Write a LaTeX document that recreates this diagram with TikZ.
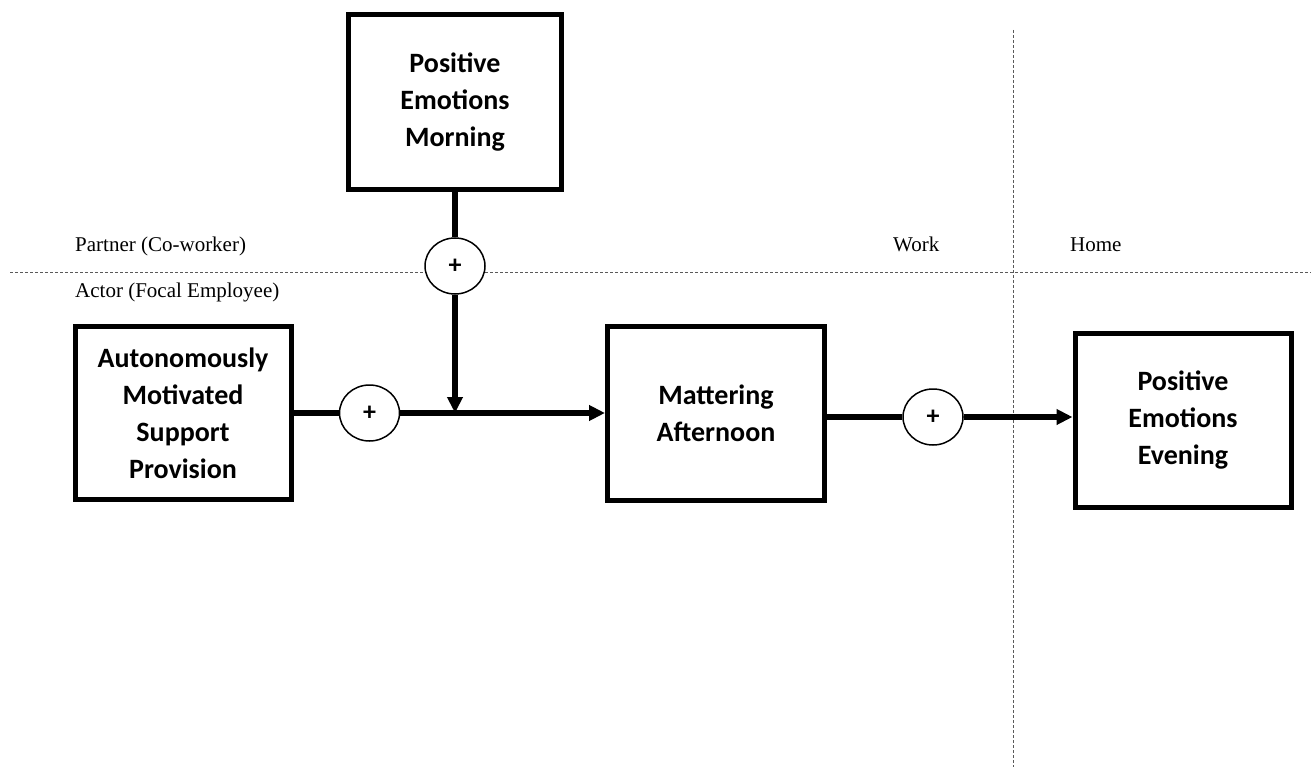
\documentclass[tikz,border=0pt]{standalone}
\usepackage{fontspec}
\setmainfont{Liberation Serif}
\newfontfamily\boxfont{Carlito}
\usetikzlibrary{arrows.meta,shapes.geometric}
\tikzset{
  varbox/.style={draw=black, line width=5pt, fill=white, inner sep=0pt,
    align=center, font=\boxfont\bfseries\fontsize{28}{37}\selectfont},
  plusnode/.style={draw=black, line width=1.5pt, fill=white, ellipse,
    inner sep=0pt, minimum width=60pt, minimum height=56pt,
    font=\boxfont\bfseries\fontsize{26}{30}\selectfont},
  lbl/.style={font=\fontsize{21}{25}\selectfont, inner sep=0pt, anchor=base west},
  divider/.style={draw=black!65, line width=1pt, dash pattern=on 3pt off 2pt},
  conn/.style={draw=black, line width=5.5pt},
  arr/.style={conn, -{Triangle[length=16pt,width=15pt]}}
}
\begin{document}
\begin{tikzpicture}[x=1pt,y=-1pt]
\useasboundingbox (0,0) rectangle (1311,767);
% dividers
\coordinate (hl) at (10,273);
\coordinate (hr) at (1311,273);
\coordinate (vt) at (1013,30);
\coordinate (vb) at (1013,767);
\draw[divider] (hl) -- (hr);
\draw[divider] (vt) -- (vb);
% labels
\node[lbl] (partner) at (75,252) {Partner (Co-worker)};
\node[lbl] (actor) at (75,298) {Actor (Focal Employee)};
\node[lbl] (work) at (893,252) {Work};
\node[lbl] (home) at (1070,252) {Home};
% boxes
\node[varbox, minimum width=213pt, minimum height=175pt] (pem) at (455,102) {Positive\\Emotions\\Morning};
\node[varbox, minimum width=216pt, minimum height=173pt] (amsp) at (183,413) {Autonomously\\Motivated\\Support\\Provision};
\node[varbox, minimum width=217pt, minimum height=174pt] (matter) at (716,413.5) {Mattering\\Afternoon};
\node[varbox, minimum width=216pt, minimum height=174pt] (pee) at (1183,420.5) {Positive\\Emotions\\Evening};
% plus circles
\coordinate (j) at (455,413);
\node[plusnode] (c1) at (455,266) {+};
\node[plusnode] (c2) at (369.5,413) {+};
\node[plusnode] (c3) at (933,417) {+};
% connectors
\draw[conn] (pem.south) -- (c1.north);
\draw[arr] (c1.south) -- (j);
\draw[conn] (amsp.east |- c2) -- (c2.west);
\draw[arr] (c2.east) -- (matter.west |- c2);
\draw[conn] (matter.east |- c3) -- (c3.west);
\draw[arr] (c3.east) -- (pee.west |- c3);
\end{tikzpicture}
\end{document}
